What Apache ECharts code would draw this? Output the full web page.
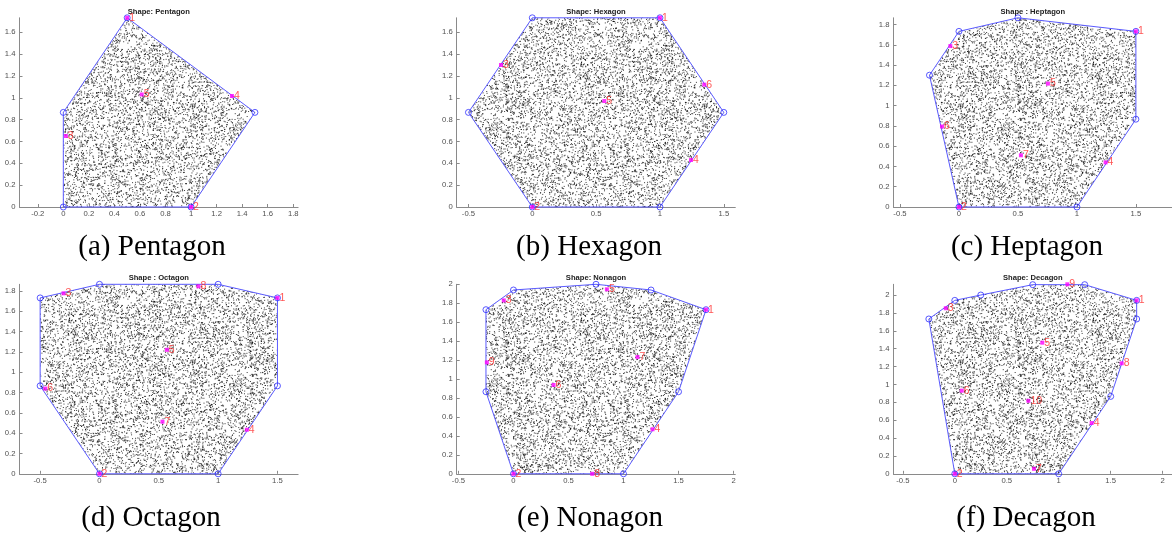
<!DOCTYPE html>
<html><head><meta charset="utf-8">
<script src="https://cdn.jsdelivr.net/npm/echarts@6/dist/echarts.min.js"></script>
<style>html,body{margin:0;padding:0;background:#fff}#c{width:1172px;height:536px}</style>
</head><body><div id="c"></div>
<script>
// ---------- DATA ----------
const panelTitles = ['Shape: Pentagon','Shape: Hexagon','Shape : Heptagon','Shape : Octagon','Shape: Nonagon','Shape: Decagon'];
const captions = ['(a) Pentagon','(b) Hexagon','(c) Heptagon','(d) Octagon','(e) Nonagon','(f) Decagon'];

const pentagonVertices = [[0,0],[1,0],[1.5,0.866],[0.5,1.732],[0,0.866]];
const hexagonVertices  = [[0,0],[1,0],[1.5,0.866],[1,1.732],[0,1.732],[-0.5,0.866]];
const heptagonVertices = [[0,0],[1,0],[1.5,0.866],[1.5,1.732],[0.5,1.866],[0,1.732],[-0.25,1.3]];
const octagonVertices  = [[0,0],[1,0],[1.5,0.866],[1.5,1.732],[1,1.866],[0,1.866],[-0.5,1.732],[-0.5,0.866]];
const nonagonVertices  = [[0,0],[1,0],[1.5,0.866],[1.75,1.732],[1.25,1.94],[0.75,2.0],[0,1.94],[-0.25,1.732],[-0.25,0.866]];
const decagonVertices  = [[0,0],[1,0],[1.5,0.866],[1.75,1.732],[1.75,1.94],[1.25,2.116],[0.75,2.116],[0.25,2.0],[0,1.94],[-0.25,1.732]];

// numbered marked points (label = index + 1)
const pentagonPoints = [[0.5,1.732],[1,0],[0.02,0.65],[1.32,1.016],[0.614,1.03]];
const hexagonPoints  = [[1,1.732],[0,0],[-0.245,1.30],[1.243,0.43],[0.564,0.97],[1.347,1.12]];
const heptagonPoints = [[1.5,1.732],[0,0],[-0.073,1.587],[1.243,0.44],[0.754,1.217],[-0.144,0.794],[0.525,0.51]];
const octagonPoints  = [[1.5,1.732],[0,0],[-0.303,1.777],[1.242,0.434],[0.568,1.221],[-0.457,0.839],[0.531,0.513],[0.834,1.846]];
const nonagonPoints  = [[1.75,1.732],[0,0],[-0.088,1.83],[1.264,0.47],[0.849,1.947],[0.364,0.937],[1.127,1.232],[0.716,0.0],[-0.242,1.176]];
const decagonPoints  = [[1.75,1.94],[0,0],[-0.087,1.852],[1.317,0.568],[0.842,1.467],[0.067,0.93],[0.762,0.056],[1.606,1.236],[1.083,2.12],[0.708,0.817]];

const xTicksA = [-0.2,0,0.2,0.4,0.6,0.8,1,1.2,1.4,1.6,1.8];
const xTicksHalf15 = [-0.5,0,0.5,1,1.5];
const xTicksHalf2 = [-0.5,0,0.5,1,1.5,2];
const yTicks16 = [0,0.2,0.4,0.6,0.8,1,1.2,1.4,1.6];
const yTicks18 = [0,0.2,0.4,0.6,0.8,1,1.2,1.4,1.6,1.8];
const yTicks20 = [0,0.2,0.4,0.6,0.8,1,1.2,1.4,1.6,1.8,2];

// ---------- LAYOUT ----------
const panels = [
  {verts: pentagonVertices, pts: pentagonPoints, xt: xTicksA, yt: yTicks16, xr:[-0.343,1.838], yr:[0,1.732]},
  {verts: hexagonVertices,  pts: hexagonPoints,  xt: xTicksHalf15, yt: yTicks16, xr:[-0.592,1.59], yr:[0,1.732]},
  {verts: heptagonVertices, pts: heptagonPoints, xt: xTicksHalf15, yt: yTicks18, xr:[-0.555,1.806], yr:[0,1.866]},
  {verts: octagonVertices,  pts: octagonPoints,  xt: xTicksHalf15, yt: yTicks18, xr:[-0.674,1.674], yr:[0,1.866]},
  {verts: nonagonVertices,  pts: nonagonPoints,  xt: xTicksHalf2, yt: yTicks20, xr:[-0.516,2.016], yr:[0,2.0]},
  {verts: decagonVertices,  pts: decagonPoints,  xt: xTicksHalf2, yt: yTicks20, xr:[-0.59,2.09], yr:[0,2.12]}
];
const colLeft = [19.5, 456.7, 893.5];
const gridW = 278.6;
const rowTop = [17.8, 284.3];
const gridH = [189.2, 189.5];
const capX = [[152,589,1027],[151,590,1026]];
const capY = [247, 518];
const titleY = [12, 278];

// speckle texture: a fill style imitating the dense sample dots (not data)
function speckle(){
  const W=256,H=256;
  const c=document.createElement('canvas'); c.width=W; c.height=H;
  const g=c.getContext('2d');
  g.fillStyle='rgba(10,10,10,0.8)';
  let s=2463534242;
  const nx=()=>{ s^=s<<13; s^=s>>>17; s^=s<<5; return (s>>>0)/4294967296; };
  const n=Math.round(W*H*0.19);
  for(let i=0;i<n;i++){
    const x=nx()*W, y=nx()*H;
    g.fillRect(x,y,1,1);
    if(x>W-1) g.fillRect(x-W,y,1,1);
    if(y>H-1) g.fillRect(x,y-H,1,1);
  }
  return c;
}
const pattern = {image: speckle(), repeat:'repeat'};

const grids=[], xAxes=[], yAxes=[], series=[], graphics=[];
const axisCol='#8a8a8a', labCol='#505050';
panels.forEach((p,i)=>{
  const r=Math.floor(i/3), c=i%3;
  grids.push({left:colLeft[c], top:rowTop[r], width:gridW, height:gridH[r], containLabel:false});
  xAxes.push({type:'value', gridIndex:i, min:p.xr[0], max:p.xr[1],
    axisLine:{show:true, onZero:false, lineStyle:{color:axisCol,width:1}},
    axisTick:{show:true, inside:true, length:3, customValues:p.xt, lineStyle:{color:axisCol}},
    axisLabel:{show:true, customValues:p.xt, margin:3, color:labCol, fontSize:7.7, fontFamily:'Liberation Sans, Arial'},
    splitLine:{show:false}});
  yAxes.push({type:'value', gridIndex:i, min:p.yr[0], max:p.yr[1],
    axisLine:{show:true, onZero:false, lineStyle:{color:axisCol,width:1}},
    axisTick:{show:true, inside:true, length:3, customValues:p.yt, lineStyle:{color:axisCol}},
    axisLabel:{show:true, customValues:p.yt, margin:4, color:labCol, fontSize:7.7, fontFamily:'Liberation Sans, Arial'},
    splitLine:{show:false}});
  const verts=p.verts;
  series.push({type:'custom', xAxisIndex:i, yAxisIndex:i, data:verts, silent:true, clip:false, z:1,
    renderItem:(params, api)=>{
      if(params.dataIndex!==0) return null;
      return {type:'polygon', shape:{points: verts.map(v=>api.coord(v))},
        style:{fill:pattern, stroke:'#5a5aff', lineWidth:1}};
    }});
  series.push({type:'scatter', xAxisIndex:i, yAxisIndex:i, data:verts, symbol:'circle', symbolSize:6, z:3,
    itemStyle:{color:'rgba(0,0,0,0)', borderColor:'#2f2fff', borderWidth:1}, silent:true});
  series.push({type:'scatter', xAxisIndex:i, yAxisIndex:i, data:p.pts.map((q,k)=>({value:q, name:String(k+1)})),
    symbol:'rect', symbolSize:4, z:4, silent:true,
    itemStyle:{color:'#ff00ff'},
    label:{show:true, position:'right', distance:0, formatter:'{b}', color:'#ff2a2a', fontSize:10.5, fontFamily:'Liberation Sans, Arial'}});
  graphics.push({type:'text', x:colLeft[c]+gridW/2, y:titleY[r], silent:true,
    style:{text:panelTitles[i], align:'center', verticalAlign:'middle', textAlign:'center', textVerticalAlign:'middle',
      font:'bold 7.6px "Liberation Sans", Arial', fill:'#222'}});
  graphics.push({type:'text', x:capX[r][c], y:capY[r], silent:true,
    style:{text:captions[i], align:'center', verticalAlign:'middle', textAlign:'center', textVerticalAlign:'middle',
      font:'29px "Liberation Serif", "Times New Roman", serif', fill:'#000'}});
});

const chart = echarts.init(document.getElementById('c'), null, {renderer:'canvas'});
chart.setOption({animation:false, backgroundColor:'#fff', grid:grids, xAxis:xAxes, yAxis:yAxes, series:series, graphic:graphics});
</script>
</body></html>
